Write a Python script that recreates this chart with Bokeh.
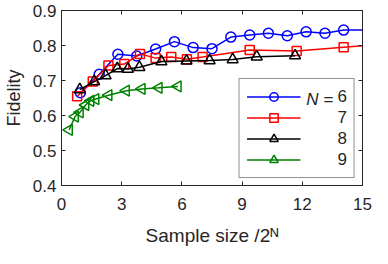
import math
from bokeh.plotting import figure
from bokeh.models import (Legend, LegendItem, Label, LinearAxis, Range1d,
                          FixedTicker)
from bokeh.embed import file_html
from bokeh.resources import INLINE

# ---------------- data ----------------
x_ticks = [0, 3, 6, 9, 12, 15]
y_ticks = [0.4, 0.5, 0.6, 0.7, 0.8, 0.9]

n6_x = [0.94, 1.88, 2.81, 3.75, 4.69, 5.63, 6.56, 7.50, 8.44, 9.38, 10.31, 11.25, 12.19, 13.13, 14.06, 15.94]
n6_y = [0.665, 0.718, 0.775, 0.770, 0.790, 0.811, 0.794, 0.791, 0.824, 0.830, 0.835, 0.828, 0.839, 0.835, 0.844, 0.845]

n7_x = [0.78, 1.56, 2.34, 3.13, 3.91, 4.69, 5.47, 6.25, 7.03, 9.38, 11.72, 14.06, 16.41]
n7_y = [0.655, 0.697, 0.743, 0.747, 0.776, 0.764, 0.767, 0.761, 0.767, 0.787, 0.784, 0.795, 0.806]

n8_x = [0.91, 1.63, 2.20, 2.78, 3.31, 3.88, 4.98, 6.23, 7.38, 8.53, 9.73, 11.64]
n8_y = [0.674, 0.697, 0.714, 0.734, 0.733, 0.738, 0.754, 0.756, 0.757, 0.760, 0.768, 0.771]

n9_x = [0.38, 0.68, 0.92, 1.20, 1.45, 1.70, 2.35, 3.22, 4.00, 4.85, 5.80]
n9_y = [0.559, 0.597, 0.609, 0.630, 0.642, 0.647, 0.658, 0.671, 0.676, 0.679, 0.683]

series_labels = ["6", "7", "8", "9"]
colors = ["#0000ff", "#ff0000", "#000000", "#008000"]

# ---------------- layout constants ----------------
W, H = 372, 248
BL, BR, BT, BB = 58, 10, 10, 60
FW = W - BL - BR
FH = H - BT - BB
X0, X1 = 0, 15
Y0, Y1 = 0.4, 0.9
FONT = "Liberation Sans"
AX = "#262626"


def dx(cx):  # canvas px -> data x
    return X0 + (cx - BL) / FW * (X1 - X0)


def dy(cy):  # canvas px -> data y
    return Y1 - (cy - BT) / FH * (Y1 - Y0)


p = figure(width=W, height=H, x_range=Range1d(X0, X1), y_range=Range1d(Y0, Y1),
           output_backend="svg", toolbar_location=None,
           min_border_left=BL, min_border_right=BR, min_border_top=BT,
           min_border_bottom=BB)
p.xgrid.visible = False
p.ygrid.visible = False
p.outline_line_color = AX
p.background_fill_color = "white"
p.border_fill_color = "white"

for ax in [p.xaxis[0], p.yaxis[0]]:
    ax.major_tick_in = 4
    ax.major_tick_out = 0
    ax.minor_tick_line_color = None
    ax.axis_line_color = AX
    ax.major_tick_line_color = AX
    ax.major_label_text_font = FONT
    ax.major_label_text_font_size = "17px"
    ax.major_label_text_color = AX
    ax.axis_label_text_font = FONT
    ax.axis_label_text_font_size = "18px"
    ax.axis_label_text_font_style = "normal"
    ax.axis_label_text_color = AX
p.xaxis[0].ticker = FixedTicker(ticks=x_ticks)
p.yaxis[0].ticker = FixedTicker(ticks=y_ticks)
p.xaxis[0].major_label_standoff = 12
p.yaxis[0].major_label_standoff = 5
p.yaxis[0].axis_label = "Fidelity"
p.yaxis[0].axis_label_standoff = 6
p.xaxis[0].axis_label = "Sample size /2\u1d3a"
p.xaxis[0].axis_label_text_font_size = "19px"
p.xaxis[0].axis_label_standoff = 12

for loc, tk in [("above", x_ticks), ("right", y_ticks)]:
    a = LinearAxis(ticker=FixedTicker(ticks=tk), major_tick_in=4, major_tick_out=0,
                   minor_tick_line_color=None, axis_line_color=AX,
                   major_tick_line_color=AX, major_label_text_font_size="0px",
                   major_label_standoff=0)
    a.major_label_overrides = {t: "" for t in tk}
    p.add_layout(a, loc)

xs = [n6_x, n7_x, n8_x, n9_x]
ys = [n6_y, n7_y, n8_y, n9_y]
markers = [("circle", 10, 0.0), ("square", 9, 0.0), ("triangle", 11, 0.0), ("triangle", 11, math.pi / 2)]
items = []
for x, y, c, (m, s, a), lab in zip(xs, ys, colors, markers, series_labels):
    ln = p.line(x, y, line_color=c, line_width=1.5)
    sc = p.scatter(x, y, marker=m, size=s, angle=a, line_color=c, fill_color=None,
                   line_width=1.5)
    items.append(LegendItem(label=lab, renderers=[ln, sc]))

PAD, GW, RH, LS, LM = 7, 54, 21, 37, 7
legend = Legend(items=items, location="bottom_right", margin=LM, padding=PAD,
                glyph_width=GW, glyph_height=RH, label_height=RH, label_width=9,
                label_standoff=LS, spacing=0, border_line_color=AX,
                border_line_width=1, label_text_font=FONT,
                label_text_font_size="17px", label_text_color=AX,
                background_fill_color="white", background_fill_alpha=0)
p.add_layout(legend)

# "N =" prefix of first legend entry
box_right = BL + FW - LM
digit_left = box_right - PAD - 9.45
row1_cy = BT + FH - LM - (2 * PAD + 4 * RH) + PAD + RH / 2
p.add_layout(Label(x=dx(digit_left - 6), y=dy(row1_cy), text="=", text_align="right",
                   text_baseline="middle", text_font=FONT, text_font_size="17px",
                   text_color=AX, level="overlay"))
p.add_layout(Label(x=dx(digit_left - 6 - 9.9 - 5), y=dy(row1_cy), text="N",
                   text_align="right", text_baseline="middle", text_font=FONT,
                   text_font_size="17px", text_font_style="italic", text_color=AX,
                   level="overlay"))

open("out.html", "w").write(file_html(p, INLINE))
